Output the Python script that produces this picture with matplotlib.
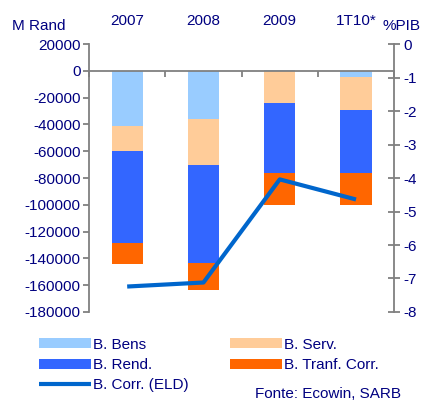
import matplotlib.pyplot as plt
import matplotlib.transforms as mtrans
import numpy as np

plt.rcParams['font.family'] = ['Liberation Sans', 'DejaVu Sans']
plt.rcParams['axes.unicode_minus'] = False

# data (M Rand, saldo da balança corrente por componente)
categories = ['2007', '2008', '2009', '1T10*']
bens = [-41000, -35800, 1000, -4500]
serv = [-18700, -34400, -23900, -24400]
rend = [-68700, -72900, -52700, -47700]
tranf = [-16100, -20200, -23200, -23200]
corr_pib = [-7.24, -7.12, -4.04, -4.64]

navy = '#000080'
grey = '#808080'
fs = 11

fig = plt.figure(figsize=(4.22, 4.01), dpi=100)
ax = fig.add_axes([0.211, 0.222, 0.723, 0.668])
ax2 = ax.twinx()

x = np.arange(len(categories)) + 0.5
w = 0.41

series = [(bens, '#99CCFF', 'B. Bens'), (serv, '#FFCC99', 'B. Serv.'),
          (rend, '#3366FF', 'B. Rend.'), (tranf, '#FF6600', 'B. Tranf. Corr.')]
pos = np.zeros(len(x))
neg = np.zeros(len(x))
bars = {}
for vals, col, lab in series:
    vals = np.array(vals, dtype=float)
    bottom = np.where(vals >= 0, pos, neg)
    bars[lab] = ax.bar(x, vals, w, bottom=bottom, color=col, label=lab, zorder=2)
    pos = pos + np.clip(vals, 0, None)
    neg = neg + np.clip(vals, None, 0)

line, = ax2.plot(x, corr_pib, color='#0066CC', lw=3, label='B. Corr. (ELD)',
                 solid_capstyle='butt', zorder=3)

ax.set_xlim(0, 4)
ax.set_ylim(-180000, 20000)
ax.set_yticks(np.arange(-180000, 20001, 20000))
ax2.set_ylim(-8, 0)
ax2.set_yticks(np.arange(-8, 1, 1))

# zero line used as the category axis
ax.spines['bottom'].set_position(('data', 0))
ax.spines['top'].set_visible(False)
ax2.spines['top'].set_visible(False)
ax2.spines['bottom'].set_visible(False)
ax2.spines['left'].set_visible(False)
ax.spines['right'].set_visible(False)
for s in ['bottom', 'left']:
    ax.spines[s].set_color(grey)
    ax.spines[s].set_linewidth(1.3)
ax2.spines['right'].set_color(grey)
ax2.spines['right'].set_linewidth(1.3)
ax.set_xticks([0, 1, 2, 3, 4])
ax.set_xticklabels([])
ax.tick_params(axis='x', direction='out', length=4, width=1.3, color=grey)
ax.tick_params(axis='y', direction='out', length=4, width=1.3, color=grey,
               labelcolor=navy, labelsize=fs, pad=2)
ax2.tick_params(axis='y', direction='inout', length=9, width=1.3, color=grey,
                labelcolor=navy, labelsize=fs, pad=2)
ax.set_axisbelow(False)
ax2.set_zorder(ax.get_zorder() + 1)
ax2.patch.set_visible(False)

tr = mtrans.blended_transform_factory(ax.transData, fig.transFigure)
for xi, c in zip(x, categories):
    ax.text(xi, 0.948, c, transform=tr, ha='center', va='center',
            color=navy, fontsize=fs)
fig.text(0.028, 0.935, 'M Rand', color=navy, fontsize=fs, va='center')
fig.text(0.907, 0.935, '%PIB', color=navy, fontsize=fs, va='center')

leg_kw = dict(loc='upper left', frameon=False, fontsize=fs, handlelength=3.4,
              handleheight=0.65, handletextpad=0.15, labelspacing=0.42,
              borderaxespad=0, borderpad=0)
h1 = [bars['B. Bens'], bars['B. Rend.'], line]
h2 = [bars['B. Serv.'], bars['B. Tranf. Corr.']]
for hs, xl in [(h1, 0.092), (h2, 0.545)]:
    leg = fig.legend(hs, [h.get_label() for h in hs], bbox_to_anchor=(xl, 0.158), **leg_kw)
    for t in leg.get_texts():
        t.set_color(navy)

fig.text(0.604, 0.036, 'Fonte: Ecowin, SARB', color=navy, fontsize=fs, va='top')

fig.savefig('out.png', dpi=100)
